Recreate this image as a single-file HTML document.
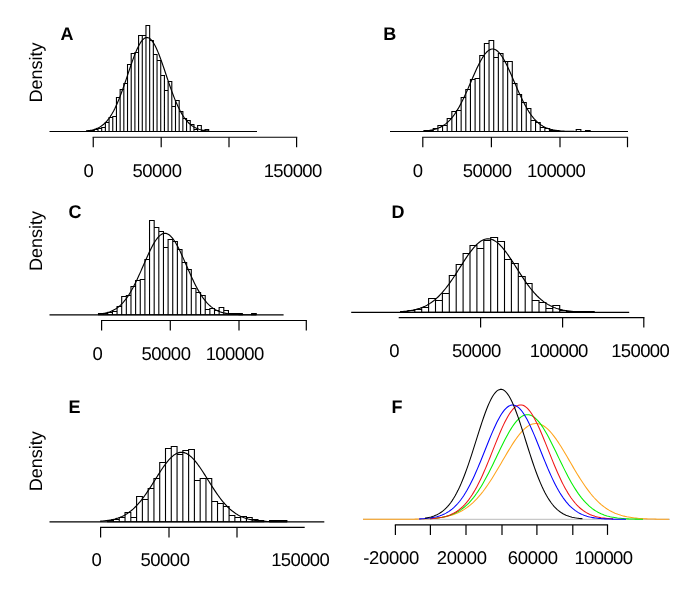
<!DOCTYPE html>
<html><head><meta charset="utf-8"><title>Figure</title>
<style>html,body{margin:0;padding:0;background:#fff}svg{display:block;will-change:transform}text{-webkit-font-smoothing:antialiased;text-rendering:geometricPrecision}</style>
</head><body>
<svg width="685" height="593" viewBox="0 0 685 593">
<rect width="685" height="593" fill="#fff"/>
<path d="M86.93 131.50V131.50H90.62V131.50ZM90.62 131.50V130.50H94.31V131.50ZM94.31 131.50V129.50H98.00V131.50ZM98.00 131.50V128.50H101.69V131.50ZM101.69 131.50V127.50H105.38V131.50ZM105.38 131.50V122.50H109.07V131.50ZM109.07 131.50V117.50H112.76V131.50ZM112.76 131.50V116.50H116.45V131.50ZM116.45 131.50V97.50H120.14V131.50ZM120.14 131.50V89.50H123.83V131.50ZM123.83 131.50V83.50H127.52V131.50ZM127.52 131.50V64.50H131.21V131.50ZM131.21 131.50V53.50H134.90V131.50ZM134.90 131.50V52.50H138.59V131.50ZM138.59 131.50V35.50H142.28V131.50ZM142.28 131.50V35.50H145.97V131.50ZM145.97 131.50V25.50H149.66V131.50ZM149.66 131.50V40.50H153.35V131.50ZM153.35 131.50V54.50H157.04V131.50ZM157.04 131.50V60.50H160.73V131.50ZM160.73 131.50V75.50H164.42V131.50ZM164.42 131.50V90.50H168.11V131.50ZM168.11 131.50V81.50H171.80V131.50ZM171.80 131.50V106.50H175.49V131.50ZM175.49 131.50V100.50H179.18V131.50ZM179.18 131.50V111.50H182.87V131.50ZM182.87 131.50V118.50H186.56V131.50ZM186.56 131.50V120.50H190.25V131.50ZM190.25 131.50V124.50H193.94V131.50ZM193.94 131.50V129.50H197.63V131.50ZM197.63 131.50V125.50H201.32V131.50ZM201.32 131.50V130.50H205.01V131.50ZM205.01 131.50V129.50H208.70V131.50Z" fill="#fff" stroke="#000" stroke-width="1.1" stroke-linejoin="miter"/>
<line x1="49.50" y1="131.50" x2="257.00" y2="131.50" stroke="#000" stroke-width="1.15"/>
<polyline points="86.0,130.92 87.0,130.81 88.0,130.69 89.0,130.55 90.0,130.39 91.0,130.20 92.0,129.99 93.0,129.75 94.0,129.47 95.0,129.16 96.0,128.80 97.0,128.40 98.0,127.95 99.0,127.45 100.0,126.89 101.0,126.26 102.0,125.57 103.0,124.80 104.0,123.96 105.0,123.03 106.0,122.01 107.0,120.90 108.0,119.69 109.0,118.37 110.0,116.96 111.0,115.43 112.0,113.79 113.0,112.04 114.0,110.18 115.0,108.20 116.0,106.10 117.0,103.90 118.0,101.58 119.0,99.16 120.0,96.63 121.0,94.02 122.0,91.31 123.0,88.53 124.0,85.69 125.0,82.79 126.0,79.84 127.0,76.87 128.0,73.89 129.0,70.91 130.0,67.95 131.0,65.03 132.0,62.16 133.0,59.37 134.0,56.67 135.0,54.08 136.0,51.63 137.0,49.32 138.0,47.17 139.0,45.21 140.0,43.44 141.0,41.88 142.0,40.54 143.0,39.44 144.0,38.58 145.0,37.96 146.0,37.60 147.0,37.50 148.0,37.66 149.0,38.07 150.0,38.73 151.0,39.64 152.0,40.79 153.0,42.17 154.0,43.78 155.0,45.58 156.0,47.59 157.0,49.77 158.0,52.11 159.0,54.59 160.0,57.20 161.0,59.92 162.0,62.73 163.0,65.61 164.0,68.54 165.0,71.50 166.0,74.49 167.0,77.47 168.0,80.43 169.0,83.37 170.0,86.26 171.0,89.10 172.0,91.86 173.0,94.55 174.0,97.15 175.0,99.65 176.0,102.05 177.0,104.35 178.0,106.53 179.0,108.60 180.0,110.56 181.0,112.40 182.0,114.13 183.0,115.75 184.0,117.25 185.0,118.64 186.0,119.94 187.0,121.13 188.0,122.22 189.0,123.22 190.0,124.13 191.0,124.96 192.0,125.71 193.0,126.39 194.0,127.01 195.0,127.56 196.0,128.05 197.0,128.49 198.0,128.88 199.0,129.22 200.0,129.53 201.0,129.80 202.0,130.03 203.0,130.24 204.0,130.42 205.0,130.58 206.0,130.72 207.0,130.83 208.0,130.94 209.0,131.02" fill="none" stroke="#000" stroke-width="1.15" stroke-linejoin="round"/>
<line x1="92.65" y1="137.25" x2="297.20" y2="137.25" stroke="#000" stroke-width="1.2"/>
<line x1="93.25" y1="137.25" x2="93.25" y2="147.25" stroke="#000" stroke-width="1.2"/>
<line x1="161.20" y1="137.25" x2="161.20" y2="147.25" stroke="#000" stroke-width="1.2"/>
<line x1="229.00" y1="137.25" x2="229.00" y2="147.25" stroke="#000" stroke-width="1.2"/>
<line x1="296.60" y1="137.25" x2="296.60" y2="147.25" stroke="#000" stroke-width="1.2"/>
<text x="0" y="0" font-size="18" font-family="Liberation Sans, sans-serif" fill="#000" text-anchor="start" font-weight="bold" transform="translate(60.60 39.70) scale(1 1.02)">A</text>
<text x="41.80" y="102.60" font-size="18" font-family="Liberation Sans, sans-serif" fill="#000" text-anchor="start" transform="rotate(-90 41.80 102.60)">Density</text>
<text x="83.43" y="176.60" font-size="18.5" letter-spacing="-0.5" font-family="Liberation Sans, sans-serif" fill="#000" text-anchor="start">0</text>
<text x="132.50" y="176.60" font-size="18.5" letter-spacing="-0.5" font-family="Liberation Sans, sans-serif" fill="#000" text-anchor="start">50000</text>
<text x="263.63" y="176.60" font-size="18.5" letter-spacing="-0.62" font-family="Liberation Sans, sans-serif" fill="#000" text-anchor="start">150000</text>
<path d="M423.95 131.50V130.50H428.60V131.50ZM428.60 131.50V130.50H433.25V131.50ZM433.25 131.50V128.50H437.90V131.50ZM437.90 131.50V125.50H442.55V131.50ZM442.55 131.50V125.50H447.20V131.50ZM447.20 131.50V118.50H451.85V131.50ZM451.85 131.50V111.50H456.50V131.50ZM456.50 131.50V110.50H461.15V131.50ZM461.15 131.50V97.50H465.80V131.50ZM465.80 131.50V89.50H470.45V131.50ZM470.45 131.50V79.50H475.10V131.50ZM475.10 131.50V78.50H479.75V131.50ZM479.75 131.50V55.50H484.40V131.50ZM484.40 131.50V43.50H489.05V131.50ZM489.05 131.50V40.50H493.70V131.50ZM493.70 131.50V57.50H498.35V131.50ZM498.35 131.50V53.50H503.00V131.50ZM503.00 131.50V61.50H507.65V131.50ZM507.65 131.50V61.50H512.30V131.50ZM512.30 131.50V83.50H516.95V131.50ZM516.95 131.50V94.50H521.60V131.50ZM521.60 131.50V102.50H526.25V131.50ZM526.25 131.50V108.50H530.90V131.50ZM530.90 131.50V120.50H535.55V131.50ZM535.55 131.50V122.50H540.20V131.50ZM540.20 131.50V127.50H544.85V131.50ZM544.85 131.50V128.50H549.50V131.50ZM549.50 131.50V130.50H554.15V131.50ZM554.15 131.50V130.50H558.80V131.50Z" fill="#fff" stroke="#000" stroke-width="1.1" stroke-linejoin="miter"/>
<path d="M576.20 131.50V129.50H580.85V131.50ZM585.50 131.50V130.50H590.15V131.50Z" fill="#fff" stroke="#000" stroke-width="1.1" stroke-linejoin="miter"/>
<line x1="390.00" y1="131.50" x2="628.00" y2="131.50" stroke="#000" stroke-width="1.15"/>
<polyline points="424.0,130.99 425.0,130.91 426.0,130.82 427.0,130.71 428.0,130.60 429.0,130.46 430.0,130.31 431.0,130.14 432.0,129.95 433.0,129.73 434.0,129.49 435.0,129.22 436.0,128.92 437.0,128.59 438.0,128.22 439.0,127.81 440.0,127.36 441.0,126.87 442.0,126.33 443.0,125.74 444.0,125.09 445.0,124.39 446.0,123.62 447.0,122.80 448.0,121.91 449.0,120.95 450.0,119.91 451.0,118.81 452.0,117.63 453.0,116.37 454.0,115.04 455.0,113.62 456.0,112.13 457.0,110.55 458.0,108.90 459.0,107.17 460.0,105.37 461.0,103.49 462.0,101.54 463.0,99.52 464.0,97.44 465.0,95.31 466.0,93.12 467.0,90.89 468.0,88.63 469.0,86.33 470.0,84.02 471.0,81.69 472.0,79.37 473.0,77.05 474.0,74.75 475.0,72.49 476.0,70.26 477.0,68.09 478.0,65.99 479.0,63.96 480.0,62.02 481.0,60.17 482.0,58.44 483.0,56.83 484.0,55.34 485.0,54.00 486.0,52.80 487.0,51.75 488.0,50.87 489.0,50.15 490.0,49.60 491.0,49.23 492.0,49.03 493.0,49.01 494.0,49.17 495.0,49.51 496.0,50.03 497.0,50.71 498.0,51.56 499.0,52.58 500.0,53.74 501.0,55.06 502.0,56.52 503.0,58.11 504.0,59.82 505.0,61.64 506.0,63.56 507.0,65.58 508.0,67.67 509.0,69.83 510.0,72.04 511.0,74.30 512.0,76.59 513.0,78.90 514.0,81.23 515.0,83.55 516.0,85.87 517.0,88.17 518.0,90.44 519.0,92.68 520.0,94.88 521.0,97.02 522.0,99.11 523.0,101.14 524.0,103.10 525.0,105.00 526.0,106.82 527.0,108.56 528.0,110.23 529.0,111.82 530.0,113.33 531.0,114.76 532.0,116.11 533.0,117.38 534.0,118.58 535.0,119.70 536.0,120.74 537.0,121.72 538.0,122.62 539.0,123.46 540.0,124.24 541.0,124.95 542.0,125.61 543.0,126.21 544.0,126.76 545.0,127.27 546.0,127.73 547.0,128.14 548.0,128.52 549.0,128.86 550.0,129.16 551.0,129.44 552.0,129.68 553.0,129.91 554.0,130.10 555.0,130.28 556.0,130.43 557.0,130.57 558.0,130.69 559.0,130.80 560.0,130.89 561.0,130.98 562.0,131.05 563.0,131.11 564.0,131.17 565.0,131.22 566.0,131.26 567.0,131.29 568.0,131.32 569.0,131.35 570.0,131.37 571.0,131.39 572.0,131.41 573.0,131.42 574.0,131.44 575.0,131.45 576.0,131.46 577.0,131.46 578.0,131.47 579.0,131.47 580.0,131.48 581.0,131.48 582.0,131.49 583.0,131.49 584.0,131.49 585.0,131.49 586.0,131.49 587.0,131.49 588.0,131.50 589.0,131.50 590.0,131.50 591.0,131.50 592.0,131.50" fill="none" stroke="#000" stroke-width="1.15" stroke-linejoin="round"/>
<line x1="422.20" y1="137.25" x2="628.10" y2="137.25" stroke="#000" stroke-width="1.2"/>
<line x1="422.80" y1="137.25" x2="422.80" y2="147.25" stroke="#000" stroke-width="1.2"/>
<line x1="491.40" y1="137.25" x2="491.40" y2="147.25" stroke="#000" stroke-width="1.2"/>
<line x1="560.00" y1="137.25" x2="560.00" y2="147.25" stroke="#000" stroke-width="1.2"/>
<line x1="627.50" y1="137.25" x2="627.50" y2="147.25" stroke="#000" stroke-width="1.2"/>
<text x="0" y="0" font-size="18" font-family="Liberation Sans, sans-serif" fill="#000" text-anchor="start" font-weight="bold" transform="translate(383.20 39.70) scale(1 1.02)">B</text>
<text x="412.85" y="176.60" font-size="18.5" letter-spacing="-0.5" font-family="Liberation Sans, sans-serif" fill="#000" text-anchor="start">0</text>
<text x="462.65" y="176.60" font-size="18.5" letter-spacing="-0.5" font-family="Liberation Sans, sans-serif" fill="#000" text-anchor="start">50000</text>
<text x="527.05" y="176.60" font-size="18.5" letter-spacing="-0.62" font-family="Liberation Sans, sans-serif" fill="#000" text-anchor="start">100000</text>
<path d="M98.50 314.80V313.50H103.14V314.80ZM103.14 314.80V313.50H107.78V314.80ZM107.78 314.80V312.50H112.42V314.80ZM112.42 314.80V311.50H117.06V314.80ZM117.06 314.80V306.50H121.70V314.80ZM121.70 314.80V296.50H126.34V314.80ZM126.34 314.80V295.50H130.98V314.80ZM130.98 314.80V286.50H135.62V314.80ZM135.62 314.80V280.50H140.26V314.80ZM140.26 314.80V279.50H144.90V314.80ZM144.90 314.80V259.50H149.54V314.80ZM149.54 314.80V220.50H154.18V314.80ZM154.18 314.80V227.50H158.82V314.80ZM158.82 314.80V231.50H163.46V314.80ZM163.46 314.80V247.50H168.10V314.80ZM168.10 314.80V239.50H172.74V314.80ZM172.74 314.80V241.50H177.38V314.80ZM177.38 314.80V249.50H182.02V314.80ZM182.02 314.80V262.50H186.66V314.80ZM186.66 314.80V269.50H191.30V314.80ZM191.30 314.80V288.50H195.94V314.80ZM195.94 314.80V292.50H200.58V314.80ZM200.58 314.80V295.50H205.22V314.80ZM205.22 314.80V309.50H209.86V314.80ZM209.86 314.80V308.50H214.50V314.80ZM214.50 314.80V310.50H219.14V314.80ZM219.14 314.80V307.50H223.78V314.80ZM223.78 314.80V310.50H228.42V314.80ZM228.42 314.80V313.50H233.06V314.80ZM233.06 314.80V313.50H237.70V314.80ZM237.70 314.80V313.50H242.34V314.80ZM251.62 314.80V313.50H256.26V314.80Z" fill="#fff" stroke="#000" stroke-width="1.1" stroke-linejoin="miter"/>
<line x1="49.50" y1="314.80" x2="283.60" y2="314.80" stroke="#000" stroke-width="1.15"/>
<polyline points="98.0,314.16 99.0,314.06 100.0,313.94 101.0,313.82 102.0,313.67 103.0,313.51 104.0,313.32 105.0,313.12 106.0,312.89 107.0,312.63 108.0,312.34 109.0,312.03 110.0,311.67 111.0,311.28 112.0,310.85 113.0,310.38 114.0,309.86 115.0,309.29 116.0,308.66 117.0,307.99 118.0,307.25 119.0,306.45 120.0,305.59 121.0,304.66 122.0,303.67 123.0,302.60 124.0,301.45 125.0,300.24 126.0,298.94 127.0,297.57 128.0,296.11 129.0,294.58 130.0,292.97 131.0,291.29 132.0,289.53 133.0,287.69 134.0,285.78 135.0,283.81 136.0,281.78 137.0,279.69 138.0,277.54 139.0,275.35 140.0,273.12 141.0,270.86 142.0,268.58 143.0,266.29 144.0,263.99 145.0,261.70 146.0,259.42 147.0,257.17 148.0,254.96 149.0,252.80 150.0,250.70 151.0,248.67 152.0,246.73 153.0,244.87 154.0,243.13 155.0,241.50 156.0,239.99 157.0,238.62 158.0,237.39 159.0,236.31 160.0,235.39 161.0,234.63 162.0,234.04 163.0,233.62 164.0,233.37 165.0,233.30 166.0,233.41 167.0,233.69 168.0,234.14 169.0,234.77 170.0,235.56 171.0,236.52 172.0,237.62 173.0,238.88 174.0,240.28 175.0,241.81 176.0,243.47 177.0,245.24 178.0,247.11 179.0,249.07 180.0,251.11 181.0,253.23 182.0,255.40 183.0,257.62 184.0,259.87 185.0,262.15 186.0,264.45 187.0,266.75 188.0,269.04 189.0,271.32 190.0,273.57 191.0,275.79 192.0,277.97 193.0,280.11 194.0,282.19 195.0,284.21 196.0,286.17 197.0,288.06 198.0,289.88 199.0,291.63 200.0,293.30 201.0,294.90 202.0,296.41 203.0,297.85 204.0,299.21 205.0,300.49 206.0,301.69 207.0,302.82 208.0,303.87 209.0,304.86 210.0,305.77 211.0,306.62 212.0,307.40 213.0,308.13 214.0,308.79 215.0,309.40 216.0,309.96 217.0,310.47 218.0,310.94 219.0,311.36 220.0,311.75 221.0,312.09 222.0,312.40 223.0,312.68 224.0,312.94 225.0,313.16 226.0,313.36 227.0,313.54 228.0,313.70 229.0,313.84 230.0,313.97 231.0,314.08 232.0,314.17 233.0,314.26 234.0,314.33 235.0,314.40 236.0,314.46 237.0,314.51 238.0,314.55 239.0,314.59 240.0,314.62 241.0,314.64 242.0,314.67 243.0,314.69 244.0,314.71 245.0,314.72 246.0,314.73 247.0,314.74 248.0,314.75 249.0,314.76 250.0,314.77 251.0,314.77 252.0,314.78 253.0,314.78 254.0,314.78 255.0,314.79 256.0,314.79" fill="none" stroke="#000" stroke-width="1.15" stroke-linejoin="round"/>
<line x1="101.00" y1="320.50" x2="306.90" y2="320.50" stroke="#000" stroke-width="1.2"/>
<line x1="101.60" y1="320.50" x2="101.60" y2="330.50" stroke="#000" stroke-width="1.2"/>
<line x1="170.30" y1="320.50" x2="170.30" y2="330.50" stroke="#000" stroke-width="1.2"/>
<line x1="239.00" y1="320.50" x2="239.00" y2="330.50" stroke="#000" stroke-width="1.2"/>
<line x1="306.30" y1="320.50" x2="306.30" y2="330.50" stroke="#000" stroke-width="1.2"/>
<text x="0" y="0" font-size="18" font-family="Liberation Sans, sans-serif" fill="#000" text-anchor="start" font-weight="bold" transform="translate(68.50 217.60) scale(1 1.02)">C</text>
<text x="41.70" y="271.10" font-size="18" font-family="Liberation Sans, sans-serif" fill="#000" text-anchor="start" transform="rotate(-90 41.70 271.10)">Density</text>
<text x="92.45" y="359.70" font-size="18.5" letter-spacing="-0.5" font-family="Liberation Sans, sans-serif" fill="#000" text-anchor="start">0</text>
<text x="141.50" y="359.70" font-size="18.5" letter-spacing="-0.5" font-family="Liberation Sans, sans-serif" fill="#000" text-anchor="start">50000</text>
<text x="205.65" y="359.70" font-size="18.5" letter-spacing="-0.62" font-family="Liberation Sans, sans-serif" fill="#000" text-anchor="start">100000</text>
<path d="M401.00 312.30V311.50H407.90V312.30ZM407.90 312.30V310.50H414.80V312.30ZM414.80 312.30V309.50H421.70V312.30ZM421.70 312.30V307.50H428.60V312.30ZM428.60 312.30V298.50H435.50V312.30ZM435.50 312.30V300.50H442.40V312.30ZM442.40 312.30V293.50H449.30V312.30ZM449.30 312.30V275.50H456.20V312.30ZM456.20 312.30V264.50H463.10V312.30ZM463.10 312.30V253.50H470.00V312.30ZM470.00 312.30V245.50H476.90V312.30ZM476.90 312.30V248.50H483.80V312.30ZM483.80 312.30V240.50H490.70V312.30ZM490.70 312.30V237.50H497.60V312.30ZM497.60 312.30V241.50H504.50V312.30ZM504.50 312.30V259.50H511.40V312.30ZM511.40 312.30V263.50H518.30V312.30ZM518.30 312.30V276.50H525.20V312.30ZM525.20 312.30V283.50H532.10V312.30ZM532.10 312.30V300.50H539.00V312.30ZM539.00 312.30V302.50H545.90V312.30ZM545.90 312.30V308.50H552.80V312.30ZM552.80 312.30V305.50H559.70V312.30ZM559.70 312.30V310.50H566.60V312.30ZM566.60 312.30V311.50H573.50V312.30ZM573.50 312.30V311.50H580.40V312.30ZM580.40 312.30V311.50H587.30V312.30ZM587.30 312.30V311.50H594.20V312.30Z" fill="#fff" stroke="#000" stroke-width="1.1" stroke-linejoin="miter"/>
<line x1="351.20" y1="312.30" x2="629.20" y2="312.30" stroke="#000" stroke-width="1.15"/>
<polyline points="400.0,311.72 401.0,311.66 402.0,311.58 403.0,311.50 404.0,311.41 405.0,311.31 406.0,311.21 407.0,311.09 408.0,310.96 409.0,310.82 410.0,310.67 411.0,310.50 412.0,310.32 413.0,310.13 414.0,309.91 415.0,309.69 416.0,309.44 417.0,309.17 418.0,308.88 419.0,308.57 420.0,308.24 421.0,307.88 422.0,307.50 423.0,307.09 424.0,306.65 425.0,306.18 426.0,305.68 427.0,305.15 428.0,304.59 429.0,304.00 430.0,303.37 431.0,302.70 432.0,302.00 433.0,301.26 434.0,300.48 435.0,299.66 436.0,298.80 437.0,297.90 438.0,296.96 439.0,295.98 440.0,294.96 441.0,293.90 442.0,292.80 443.0,291.66 444.0,290.47 445.0,289.25 446.0,287.99 447.0,286.70 448.0,285.37 449.0,284.00 450.0,282.60 451.0,281.18 452.0,279.72 453.0,278.24 454.0,276.74 455.0,275.21 456.0,273.67 457.0,272.12 458.0,270.55 459.0,268.98 460.0,267.40 461.0,265.83 462.0,264.26 463.0,262.70 464.0,261.15 465.0,259.62 466.0,258.12 467.0,256.64 468.0,255.19 469.0,253.77 470.0,252.40 471.0,251.06 472.0,249.78 473.0,248.55 474.0,247.38 475.0,246.27 476.0,245.22 477.0,244.24 478.0,243.33 479.0,242.50 480.0,241.75 481.0,241.08 482.0,240.49 483.0,239.98 484.0,239.57 485.0,239.24 486.0,239.00 487.0,238.86 488.0,238.80 489.0,238.84 490.0,238.97 491.0,239.18 492.0,239.49 493.0,239.89 494.0,240.38 495.0,240.95 496.0,241.61 497.0,242.35 498.0,243.16 499.0,244.05 500.0,245.02 501.0,246.05 502.0,247.15 503.0,248.31 504.0,249.53 505.0,250.80 506.0,252.13 507.0,253.49 508.0,254.90 509.0,256.34 510.0,257.82 511.0,259.32 512.0,260.85 513.0,262.39 514.0,263.95 515.0,265.52 516.0,267.09 517.0,268.67 518.0,270.24 519.0,271.80 520.0,273.36 521.0,274.91 522.0,276.43 523.0,277.94 524.0,279.43 525.0,280.89 526.0,282.32 527.0,283.72 528.0,285.10 529.0,286.43 530.0,287.74 531.0,289.00 532.0,290.23 533.0,291.42 534.0,292.57 535.0,293.68 536.0,294.75 537.0,295.78 538.0,296.77 539.0,297.72 540.0,298.62 541.0,299.49 542.0,300.32 543.0,301.10 544.0,301.85 545.0,302.56 546.0,303.24 547.0,303.87 548.0,304.48 549.0,305.04 550.0,305.58 551.0,306.08 552.0,306.56 553.0,307.00 554.0,307.42 555.0,307.80 556.0,308.17 557.0,308.51 558.0,308.82 559.0,309.11 560.0,309.39 561.0,309.64 562.0,309.87 563.0,310.09 564.0,310.28 565.0,310.47 566.0,310.64 567.0,310.79 568.0,310.93 569.0,311.06 570.0,311.18 571.0,311.29 572.0,311.39 573.0,311.48 574.0,311.57 575.0,311.64 576.0,311.71 577.0,311.77 578.0,311.83 579.0,311.88 580.0,311.92 581.0,311.96 582.0,312.00 583.0,312.03 584.0,312.06 585.0,312.09 586.0,312.11 587.0,312.14 588.0,312.16 589.0,312.17 590.0,312.19 591.0,312.20 592.0,312.21 593.0,312.22 594.0,312.23" fill="none" stroke="#000" stroke-width="1.15" stroke-linejoin="round"/>
<line x1="398.70" y1="317.60" x2="644.40" y2="317.60" stroke="#000" stroke-width="1.2"/>
<line x1="480.60" y1="317.60" x2="480.60" y2="327.60" stroke="#000" stroke-width="1.2"/>
<line x1="562.60" y1="317.60" x2="562.60" y2="327.60" stroke="#000" stroke-width="1.2"/>
<line x1="643.80" y1="317.60" x2="643.80" y2="327.60" stroke="#000" stroke-width="1.2"/>
<text x="0" y="0" font-size="18" font-family="Liberation Sans, sans-serif" fill="#000" text-anchor="start" font-weight="bold" transform="translate(391.50 217.70) scale(1 1.02)">D</text>
<text x="389.35" y="357.10" font-size="18.5" letter-spacing="-0.5" font-family="Liberation Sans, sans-serif" fill="#000" text-anchor="start">0</text>
<text x="451.90" y="357.10" font-size="18.5" letter-spacing="-0.5" font-family="Liberation Sans, sans-serif" fill="#000" text-anchor="start">50000</text>
<text x="529.75" y="357.10" font-size="18.5" letter-spacing="-0.62" font-family="Liberation Sans, sans-serif" fill="#000" text-anchor="start">100000</text>
<text x="611.15" y="357.10" font-size="18.5" letter-spacing="-0.62" font-family="Liberation Sans, sans-serif" fill="#000" text-anchor="start">150000</text>
<path d="M107.70 521.80V520.50H113.48V521.80ZM113.48 521.80V519.50H119.26V521.80ZM119.26 521.80V517.50H125.04V521.80ZM125.04 521.80V512.50H130.82V521.80ZM130.82 521.80V517.50H136.60V521.80ZM136.60 521.80V496.50H142.38V521.80ZM142.38 521.80V499.50H148.16V521.80ZM148.16 521.80V488.50H153.94V521.80ZM153.94 521.80V478.50H159.72V521.80ZM159.72 521.80V462.50H165.50V521.80ZM165.50 521.80V448.50H171.28V521.80ZM171.28 521.80V446.50H177.06V521.80ZM177.06 521.80V454.50H182.84V521.80ZM182.84 521.80V450.50H188.62V521.80ZM188.62 521.80V449.50H194.40V521.80ZM194.40 521.80V480.50H200.18V521.80ZM200.18 521.80V478.50H205.96V521.80ZM205.96 521.80V478.50H211.74V521.80ZM211.74 521.80V501.50H217.52V521.80ZM217.52 521.80V503.50H223.30V521.80ZM223.30 521.80V506.50H229.08V521.80ZM229.08 521.80V515.50H234.86V521.80ZM234.86 521.80V517.50H240.64V521.80ZM240.64 521.80V516.50H246.42V521.80ZM246.42 521.80V517.50H252.20V521.80ZM252.20 521.80V519.50H257.98V521.80ZM257.98 521.80V520.50H263.76V521.80ZM269.54 521.80V520.50H275.32V521.80ZM275.32 521.80V520.50H281.10V521.80ZM281.10 521.80V520.50H286.88V521.80Z" fill="#fff" stroke="#000" stroke-width="1.1" stroke-linejoin="miter"/>
<line x1="49.50" y1="521.80" x2="324.30" y2="521.80" stroke="#000" stroke-width="1.15"/>
<polyline points="100.0,521.23 101.0,521.16 102.0,521.08 103.0,520.99 104.0,520.90 105.0,520.79 106.0,520.67 107.0,520.54 108.0,520.40 109.0,520.24 110.0,520.07 111.0,519.89 112.0,519.68 113.0,519.46 114.0,519.22 115.0,518.96 116.0,518.67 117.0,518.36 118.0,518.03 119.0,517.67 120.0,517.29 121.0,516.87 122.0,516.42 123.0,515.94 124.0,515.43 125.0,514.88 126.0,514.30 127.0,513.68 128.0,513.02 129.0,512.32 130.0,511.58 131.0,510.80 132.0,509.98 133.0,509.11 134.0,508.20 135.0,507.24 136.0,506.24 137.0,505.19 138.0,504.10 139.0,502.97 140.0,501.79 141.0,500.57 142.0,499.30 143.0,498.00 144.0,496.65 145.0,495.27 146.0,493.85 147.0,492.40 148.0,490.92 149.0,489.41 150.0,487.88 151.0,486.32 152.0,484.75 153.0,483.16 154.0,481.57 155.0,479.97 156.0,478.36 157.0,476.77 158.0,475.18 159.0,473.60 160.0,472.04 161.0,470.51 162.0,469.00 163.0,467.53 164.0,466.10 165.0,464.72 166.0,463.38 167.0,462.10 168.0,460.88 169.0,459.72 170.0,458.64 171.0,457.62 172.0,456.69 173.0,455.84 174.0,455.07 175.0,454.39 176.0,453.80 177.0,453.31 178.0,452.91 179.0,452.61 180.0,452.41 181.0,452.31 182.0,452.31 183.0,452.41 184.0,452.61 185.0,452.91 186.0,453.31 187.0,453.80 188.0,454.39 189.0,455.07 190.0,455.84 191.0,456.69 192.0,457.62 193.0,458.64 194.0,459.72 195.0,460.88 196.0,462.10 197.0,463.38 198.0,464.72 199.0,466.10 200.0,467.53 201.0,469.00 202.0,470.51 203.0,472.04 204.0,473.60 205.0,475.18 206.0,476.77 207.0,478.36 208.0,479.97 209.0,481.57 210.0,483.16 211.0,484.75 212.0,486.32 213.0,487.88 214.0,489.41 215.0,490.92 216.0,492.40 217.0,493.85 218.0,495.27 219.0,496.65 220.0,498.00 221.0,499.30 222.0,500.57 223.0,501.79 224.0,502.97 225.0,504.10 226.0,505.19 227.0,506.24 228.0,507.24 229.0,508.20 230.0,509.11 231.0,509.98 232.0,510.80 233.0,511.58 234.0,512.32 235.0,513.02 236.0,513.68 237.0,514.30 238.0,514.88 239.0,515.43 240.0,515.94 241.0,516.42 242.0,516.87 243.0,517.29 244.0,517.67 245.0,518.03 246.0,518.36 247.0,518.67 248.0,518.96 249.0,519.22 250.0,519.46 251.0,519.68 252.0,519.89 253.0,520.07 254.0,520.24 255.0,520.40 256.0,520.54 257.0,520.67 258.0,520.79 259.0,520.90 260.0,520.99 261.0,521.08 262.0,521.16 263.0,521.23 264.0,521.29 265.0,521.35 266.0,521.40 267.0,521.45 268.0,521.49 269.0,521.53 270.0,521.56 271.0,521.59 272.0,521.61 273.0,521.64 274.0,521.66 275.0,521.67 276.0,521.69 277.0,521.70 278.0,521.72 279.0,521.73 280.0,521.74 281.0,521.75 282.0,521.75 283.0,521.76 284.0,521.77 285.0,521.77 286.0,521.77 287.0,521.78" fill="none" stroke="#000" stroke-width="1.15" stroke-linejoin="round"/>
<line x1="100.00" y1="527.40" x2="304.70" y2="527.40" stroke="#000" stroke-width="1.2"/>
<line x1="100.60" y1="527.40" x2="100.60" y2="537.40" stroke="#000" stroke-width="1.2"/>
<line x1="169.00" y1="527.40" x2="169.00" y2="537.40" stroke="#000" stroke-width="1.2"/>
<line x1="237.00" y1="527.40" x2="237.00" y2="537.40" stroke="#000" stroke-width="1.2"/>
<text x="0" y="0" font-size="18" font-family="Liberation Sans, sans-serif" fill="#000" text-anchor="start" font-weight="bold" transform="translate(68.50 412.70) scale(1 1.02)">E</text>
<text x="41.70" y="491.30" font-size="18" font-family="Liberation Sans, sans-serif" fill="#000" text-anchor="start" transform="rotate(-90 41.70 491.30)">Density</text>
<text x="91.45" y="566.40" font-size="18.5" letter-spacing="-0.5" font-family="Liberation Sans, sans-serif" fill="#000" text-anchor="start">0</text>
<text x="140.50" y="566.40" font-size="18.5" letter-spacing="-0.5" font-family="Liberation Sans, sans-serif" fill="#000" text-anchor="start">50000</text>
<text x="271.15" y="566.40" font-size="18.5" letter-spacing="-0.62" font-family="Liberation Sans, sans-serif" fill="#000" text-anchor="start">150000</text>
<line x1="363.00" y1="519.30" x2="670.00" y2="519.30" stroke="#c8c8c8" stroke-width="1.2"/>
<polyline points="363.0,519.30 364.5,519.30 366.0,519.30 367.5,519.30 369.0,519.30 370.5,519.30 372.0,519.30 373.5,519.30 375.0,519.30 376.5,519.30 378.0,519.30 379.5,519.30 381.0,519.30 382.5,519.30 384.0,519.30 385.5,519.30 387.0,519.29 388.5,519.29 390.0,519.29 391.5,519.29 393.0,519.29 394.5,519.29 396.0,519.28 397.5,519.28 399.0,519.28 400.5,519.27 402.0,519.26 403.5,519.26 405.0,519.25 406.5,519.24 408.0,519.23 409.5,519.22 411.0,519.20 412.5,519.18 414.0,519.16 415.5,519.14 417.0,519.11 418.5,519.08 420.0,519.04 421.5,519.00 423.0,518.95 424.5,518.90 426.0,518.83 427.5,518.76 429.0,518.68 430.5,518.59 432.0,518.48 433.5,518.36 435.0,518.23 436.5,518.07 438.0,517.90 439.5,517.71 441.0,517.50 442.5,517.26 444.0,516.99 445.5,516.70 447.0,516.37 448.5,516.01 450.0,515.61 451.5,515.17 453.0,514.69 454.5,514.16 456.0,513.58 457.5,512.94 459.0,512.26 460.5,511.51 462.0,510.70 463.5,509.83 465.0,508.89 466.5,507.88 468.0,506.79 469.5,505.63 471.0,504.39 472.5,503.07 474.0,501.66 475.5,500.18 477.0,498.61 478.5,496.95 480.0,495.21 481.5,493.39 483.0,491.49 484.5,489.50 486.0,487.43 487.5,485.29 489.0,483.08 490.5,480.79 492.0,478.45 493.5,476.05 495.0,473.60 496.5,471.10 498.0,468.57 499.5,466.01 501.0,463.43 502.5,460.85 504.0,458.27 505.5,455.69 507.0,453.14 508.5,450.63 510.0,448.16 511.5,445.75 513.0,443.40 514.5,441.14 516.0,438.97 517.5,436.90 519.0,434.95 520.5,433.12 522.0,431.42 523.5,429.87 525.0,428.47 526.5,427.23 528.0,426.16 529.5,425.27 531.0,424.55 532.5,424.02 534.0,423.67 535.5,423.51 537.0,423.54 538.5,423.76 540.0,424.17 541.5,424.77 543.0,425.54 544.5,426.50 546.0,427.63 547.5,428.92 549.0,430.37 550.5,431.97 552.0,433.71 553.5,435.58 555.0,437.58 556.5,439.68 558.0,441.89 559.5,444.18 561.0,446.54 562.5,448.98 564.0,451.46 565.5,453.99 567.0,456.55 568.5,459.13 570.0,461.71 571.5,464.30 573.0,466.87 574.5,469.42 576.0,471.94 577.5,474.42 579.0,476.85 580.5,479.24 582.0,481.56 583.5,483.82 585.0,486.01 586.5,488.13 588.0,490.17 589.5,492.13 591.0,494.01 592.5,495.80 594.0,497.51 595.5,499.14 597.0,500.68 598.5,502.14 600.0,503.52 601.5,504.81 603.0,506.02 604.5,507.16 606.0,508.22 607.5,509.21 609.0,510.13 610.5,510.98 612.0,511.77 613.5,512.49 615.0,513.16 616.5,513.78 618.0,514.34 619.5,514.85 621.0,515.32 622.5,515.75 624.0,516.13 625.5,516.48 627.0,516.80 628.5,517.08 630.0,517.34 631.5,517.57 633.0,517.78 634.5,517.96 636.0,518.13 637.5,518.27 639.0,518.40 640.5,518.52 642.0,518.62 643.5,518.71 645.0,518.79 646.5,518.86 648.0,518.92 649.5,518.97 651.0,519.02 652.5,519.06 654.0,519.09 655.5,519.12 657.0,519.15 658.5,519.17 660.0,519.19 661.5,519.21 663.0,519.22 664.5,519.23 666.0,519.24 667.5,519.25 669.0,519.26" fill="none" stroke="#ffa31a" stroke-width="1.05" stroke-linejoin="round"/>
<polyline points="430.0,518.68 431.5,518.58 433.0,518.46 434.5,518.32 436.0,518.16 437.5,517.98 439.0,517.77 440.5,517.54 442.0,517.28 443.5,516.98 445.0,516.64 446.5,516.27 448.0,515.85 449.5,515.38 451.0,514.85 452.5,514.27 454.0,513.63 455.5,512.92 457.0,512.14 458.5,511.28 460.0,510.34 461.5,509.32 463.0,508.21 464.5,507.00 466.0,505.69 467.5,504.29 469.0,502.77 470.5,501.15 472.0,499.42 473.5,497.58 475.0,495.62 476.5,493.55 478.0,491.37 479.5,489.07 481.0,486.67 482.5,484.16 484.0,481.55 485.5,478.84 487.0,476.05 488.5,473.17 490.0,470.22 491.5,467.22 493.0,464.16 494.5,461.06 496.0,457.94 497.5,454.81 499.0,451.69 500.5,448.59 502.0,445.52 503.5,442.51 505.0,439.57 506.5,436.72 508.0,433.97 509.5,431.35 511.0,428.87 512.5,426.54 514.0,424.38 515.5,422.41 517.0,420.65 518.5,419.09 520.0,417.75 521.5,416.65 523.0,415.79 524.5,415.17 526.0,414.81 527.5,414.70 529.0,414.84 530.5,415.24 532.0,415.89 533.5,416.78 535.0,417.92 536.5,419.28 538.0,420.87 539.5,422.67 541.0,424.66 542.5,426.84 544.0,429.19 545.5,431.69 547.0,434.33 548.5,437.09 550.0,439.95 551.5,442.91 553.0,445.93 554.5,449.00 556.0,452.10 557.5,455.23 559.0,458.36 560.5,461.48 562.0,464.57 563.5,467.62 565.0,470.62 566.5,473.56 568.0,476.42 569.5,479.21 571.0,481.90 572.5,484.50 574.0,486.99 575.5,489.38 577.0,491.66 578.5,493.83 580.0,495.89 581.5,497.83 583.0,499.66 584.5,501.38 586.0,502.98 587.5,504.48 589.0,505.87 590.5,507.17 592.0,508.36 593.5,509.46 595.0,510.47 596.5,511.40 598.0,512.25 599.5,513.02 601.0,513.72 602.5,514.35 604.0,514.93 605.5,515.44 607.0,515.91 608.5,516.32 610.0,516.69 611.5,517.02 613.0,517.31 614.5,517.57 616.0,517.80 617.5,518.01 619.0,518.18 620.5,518.34 622.0,518.47 623.5,518.59 625.0,518.70 626.5,518.78 628.0,518.86 629.5,518.93 631.0,518.99 632.5,519.03 634.0,519.08 635.5,519.11 637.0,519.14 638.5,519.17 640.0,519.19 641.5,519.21 643.0,519.22" fill="none" stroke="#00f000" stroke-width="1.05" stroke-linejoin="round"/>
<polyline points="430.0,518.78 431.5,518.68 433.0,518.56 434.5,518.42 436.0,518.26 437.5,518.07 439.0,517.85 440.5,517.60 442.0,517.32 443.5,516.99 445.0,516.61 446.5,516.19 448.0,515.70 449.5,515.16 451.0,514.54 452.5,513.85 454.0,513.08 455.5,512.22 457.0,511.26 458.5,510.20 460.0,509.03 461.5,507.75 463.0,506.34 464.5,504.80 466.0,503.13 467.5,501.33 469.0,499.37 470.5,497.27 472.0,495.03 473.5,492.63 475.0,490.08 476.5,487.38 478.0,484.54 479.5,481.55 481.0,478.43 482.5,475.18 484.0,471.81 485.5,468.34 487.0,464.77 488.5,461.13 490.0,457.43 491.5,453.68 493.0,449.91 494.5,446.15 496.0,442.40 497.5,438.70 499.0,435.08 500.5,431.55 502.0,428.14 503.5,424.88 505.0,421.79 506.5,418.90 508.0,416.22 509.5,413.79 511.0,411.62 512.5,409.72 514.0,408.12 515.5,406.84 517.0,405.87 518.5,405.23 520.0,404.93 521.5,404.96 523.0,405.33 524.5,406.04 526.0,407.07 527.5,408.42 529.0,410.08 530.5,412.03 532.0,414.25 533.5,416.74 535.0,419.46 536.5,422.39 538.0,425.52 539.5,428.81 541.0,432.24 542.5,435.80 544.0,439.44 545.5,443.15 547.0,446.90 548.5,450.67 550.0,454.43 551.5,458.17 553.0,461.86 554.5,465.49 556.0,469.04 557.5,472.50 559.0,475.84 560.5,479.06 562.0,482.16 563.5,485.12 565.0,487.93 566.5,490.60 568.0,493.12 569.5,495.49 571.0,497.71 572.5,499.78 574.0,501.70 575.5,503.48 577.0,505.12 578.5,506.63 580.0,508.01 581.5,509.27 583.0,510.42 584.5,511.46 586.0,512.39 587.5,513.24 589.0,513.99 590.5,514.67 592.0,515.27 593.5,515.80 595.0,516.28 596.5,516.69 598.0,517.06 599.5,517.38 601.0,517.66 602.5,517.90 604.0,518.11 605.5,518.29 607.0,518.45 608.5,518.58 610.0,518.70 611.5,518.80 613.0,518.88" fill="none" stroke="#f01414" stroke-width="1.05" stroke-linejoin="round"/>
<polyline points="419.0,518.94 420.5,518.87 422.0,518.78 423.5,518.68 425.0,518.57 426.5,518.43 428.0,518.27 429.5,518.08 431.0,517.87 432.5,517.62 434.0,517.34 435.5,517.01 437.0,516.64 438.5,516.22 440.0,515.74 441.5,515.20 443.0,514.59 444.5,513.90 446.0,513.14 447.5,512.28 449.0,511.33 450.5,510.28 452.0,509.12 453.5,507.84 455.0,506.45 456.5,504.92 458.0,503.26 459.5,501.47 461.0,499.53 462.5,497.44 464.0,495.20 465.5,492.82 467.0,490.28 468.5,487.59 470.0,484.76 471.5,481.79 473.0,478.68 474.5,475.44 476.0,472.08 477.5,468.62 479.0,465.06 480.5,461.43 482.0,457.73 483.5,453.99 485.0,450.22 486.5,446.46 488.0,442.72 489.5,439.02 491.0,435.39 492.5,431.86 494.0,428.44 495.5,425.17 497.0,422.07 498.5,419.17 500.0,416.48 501.5,414.03 503.0,411.85 504.5,409.93 506.0,408.32 507.5,407.01 509.0,406.02 510.5,405.36 512.0,405.04 513.5,405.05 515.0,405.40 516.5,406.08 518.0,407.09 519.5,408.42 521.0,410.05 522.5,411.98 524.0,414.19 525.5,416.65 527.0,419.36 528.5,422.27 530.0,425.39 531.5,428.67 533.0,432.09 534.5,435.63 536.0,439.26 537.5,442.97 539.0,446.71 540.5,450.48 542.0,454.24 543.5,457.98 545.0,461.67 546.5,465.30 548.0,468.85 549.5,472.31 551.0,475.66 552.5,478.89 554.0,481.99 555.5,484.96 557.0,487.78 558.5,490.45 560.0,492.98 561.5,495.36 563.0,497.58 564.5,499.66 566.0,501.59 567.5,503.38 569.0,505.03 570.5,506.54 572.0,507.93 573.5,509.20 575.0,510.35 576.5,511.40 578.0,512.34 579.5,513.19 581.0,513.95 582.5,514.63 584.0,515.24 585.5,515.77 587.0,516.25 588.5,516.67 590.0,517.04 591.5,517.36 593.0,517.64 594.5,517.89 596.0,518.10 597.5,518.28 599.0,518.44 600.5,518.57 602.0,518.69 603.5,518.79 605.0,518.87 606.5,518.95 608.0,519.01 609.5,519.06 611.0,519.10 612.5,519.13 614.0,519.16 615.5,519.19 617.0,519.21 618.5,519.23 620.0,519.24 621.5,519.25 623.0,519.26 624.5,519.27 626.0,519.27" fill="none" stroke="#0000ff" stroke-width="1.05" stroke-linejoin="round"/>
<polyline points="425.0,518.12 426.5,517.88 428.0,517.60 429.5,517.27 431.0,516.89 432.5,516.45 434.0,515.93 435.5,515.34 437.0,514.66 438.5,513.88 440.0,513.00 441.5,512.00 443.0,510.88 444.5,509.61 446.0,508.20 447.5,506.62 449.0,504.88 450.5,502.95 452.0,500.84 453.5,498.53 455.0,496.01 456.5,493.29 458.0,490.36 459.5,487.21 461.0,483.85 462.5,480.29 464.0,476.52 465.5,472.56 467.0,468.42 468.5,464.12 470.0,459.67 471.5,455.10 473.0,450.43 474.5,445.70 476.0,440.93 477.5,436.15 479.0,431.41 480.5,426.74 482.0,422.18 483.5,417.76 485.0,413.54 486.5,409.54 488.0,405.81 489.5,402.38 491.0,399.29 492.5,396.58 494.0,394.26 495.5,392.36 497.0,390.90 498.5,389.91 500.0,389.39 501.5,389.34 503.0,389.77 504.5,390.67 506.0,392.03 507.5,393.84 509.0,396.08 510.5,398.72 512.0,401.74 513.5,405.10 515.0,408.77 516.5,412.72 518.0,416.90 519.5,421.28 521.0,425.82 522.5,430.47 524.0,435.20 525.5,439.97 527.0,444.75 528.5,449.49 530.0,454.17 531.5,458.76 533.0,463.24 534.5,467.57 536.0,471.74 537.5,475.74 539.0,479.55 540.5,483.16 542.0,486.56 543.5,489.75 545.0,492.72 546.5,495.49 548.0,498.04 549.5,500.39 551.0,502.54 552.5,504.51 554.0,506.29 555.5,507.89 557.0,509.34 558.5,510.63 560.0,511.79 561.5,512.81 563.0,513.72 564.5,514.51 566.0,515.21 567.5,515.82 569.0,516.35 570.5,516.81 572.0,517.20 573.5,517.54 575.0,517.83 576.5,518.08 578.0,518.28 579.5,518.46 581.0,518.61 582.5,518.73" fill="none" stroke="#000" stroke-width="1.05" stroke-linejoin="round"/>
<line x1="394.80" y1="524.90" x2="608.10" y2="524.90" stroke="#000" stroke-width="1.2"/>
<line x1="395.40" y1="524.90" x2="395.40" y2="534.90" stroke="#000" stroke-width="1.2"/>
<line x1="430.40" y1="524.90" x2="430.40" y2="534.90" stroke="#000" stroke-width="1.2"/>
<line x1="466.00" y1="524.90" x2="466.00" y2="534.90" stroke="#000" stroke-width="1.2"/>
<line x1="502.00" y1="524.90" x2="502.00" y2="534.90" stroke="#000" stroke-width="1.2"/>
<line x1="536.90" y1="524.90" x2="536.90" y2="534.90" stroke="#000" stroke-width="1.2"/>
<line x1="572.80" y1="524.90" x2="572.80" y2="534.90" stroke="#000" stroke-width="1.2"/>
<line x1="607.50" y1="524.90" x2="607.50" y2="534.90" stroke="#000" stroke-width="1.2"/>
<text x="0" y="0" font-size="18" font-family="Liberation Sans, sans-serif" fill="#000" text-anchor="start" font-weight="bold" transform="translate(391.50 412.80) scale(1 1.02)">F</text>
<text x="363.20" y="564.20" font-size="18.5" letter-spacing="-0.32" font-family="Liberation Sans, sans-serif" fill="#000" text-anchor="start">-20000</text>
<text x="436.75" y="564.20" font-size="18.5" letter-spacing="-0.32" font-family="Liberation Sans, sans-serif" fill="#000" text-anchor="start">20000</text>
<text x="507.75" y="564.20" font-size="18.5" letter-spacing="-0.32" font-family="Liberation Sans, sans-serif" fill="#000" text-anchor="start">60000</text>
<text x="574.40" y="564.20" font-size="18.5" letter-spacing="-0.62" font-family="Liberation Sans, sans-serif" fill="#000" text-anchor="start">100000</text>
</svg>
</body></html>
